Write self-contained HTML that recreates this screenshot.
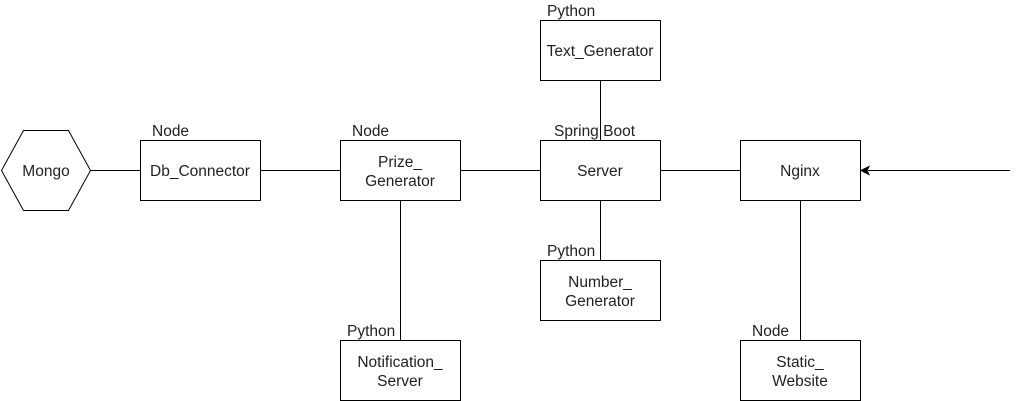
<!DOCTYPE html>
<html><head><meta charset="utf-8"><style>
html,body{margin:0;padding:0;background:#fff;}
svg{display:block;}
text{font-family:"Liberation Sans",Arial,sans-serif;font-size:15.5px;fill:#222;}
</style></head><body>
<svg width="1019" height="401" viewBox="0 0 1019 401" xmlns="http://www.w3.org/2000/svg">
<g stroke="#000" stroke-width="1" fill="none">
<path d="M90.5 170.5H140.5M260.5 170.5H340.5M460.5 170.5H540.5M660.5 170.5H740.5M600.5 80.5V140.5M600.5 200.5V260.5M400.5 200.5V340.5M800.5 200.5V340.5M1010 170.5H868"/>
<polygon points="1.5,170.5 23.5,130.5 68.5,130.5 90.5,170.5 68.5,210.5 23.5,210.5" fill="#fff"/>
<rect x="140.5" y="140.5" width="120" height="60" fill="#fff"/>
<rect x="340.5" y="140.5" width="120" height="60" fill="#fff"/>
<rect x="540.5" y="140.5" width="120" height="60" fill="#fff"/>
<rect x="740.5" y="140.5" width="120" height="60" fill="#fff"/>
<rect x="540.5" y="20.5" width="120" height="60" fill="#fff"/>
<rect x="540.5" y="260.5" width="120" height="60" fill="#fff"/>
<rect x="340.5" y="340.5" width="120" height="60" fill="#fff"/>
<rect x="740.5" y="340.5" width="120" height="60" fill="#fff"/>
</g>
<polygon points="861,170.5 869,166.5 867,170.5 869,174.5" fill="#000" stroke="#000"/>
<g text-anchor="middle">
<text x="46" y="176">Mongo</text>
<text x="200" y="176">Db_Connector</text>
<text x="400" y="167">Prize_</text>
<text x="400" y="186">Generator</text>
<text x="600" y="176">Server</text>
<text x="800" y="176">Nginx</text>
<text x="600" y="56">Text_Generator</text>
<text x="600" y="287">Number_</text>
<text x="600" y="306">Generator</text>
<text x="400" y="367">Notification_</text>
<text x="400" y="386">Server</text>
<text x="800" y="367">Static_</text>
<text x="800" y="386">Website</text>
</g>
<text x="152" y="136">Node</text>
<text x="352" y="136">Node</text>
<text x="554" y="136">Spring Boot</text>
<text x="547" y="16">Python</text>
<text x="547" y="256">Python</text>
<text x="347" y="336">Python</text>
<text x="752" y="336">Node</text>
</svg>
</body></html>
